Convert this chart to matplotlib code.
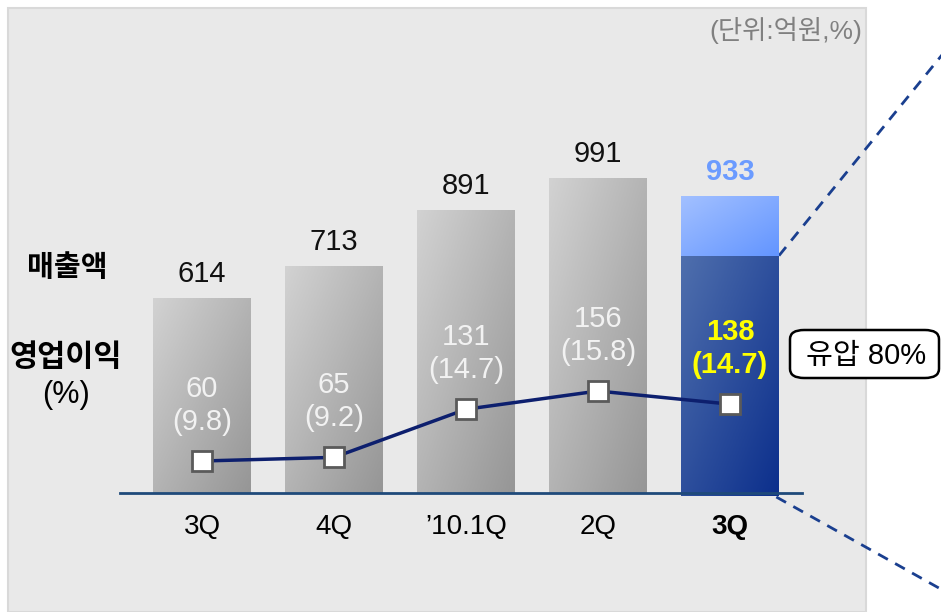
import numpy as np
import matplotlib
matplotlib.use('Agg')
import matplotlib.pyplot as plt
from matplotlib.colors import LinearSegmentedColormap
from matplotlib.patches import Rectangle, FancyBboxPatch

plt.rcParams['font.family'] = ['Liberation Sans', 'Noto Sans CJK KR', 'DejaVu Sans']

# data
quarters = ['3Q', '4Q', '\u201910.1Q', '2Q', '3Q']
sales = [614, 713, 891, 991, 933]
profit = [60, 65, 131, 156, 138]
margin = [9.8, 9.2, 14.7, 15.8, 14.7]
hydraulic_share = 0.80

W, H = 941, 612
fig = plt.figure(figsize=(W / 100, H / 100), dpi=100)

# gray panel
fig.patches.append(Rectangle((8 / W, 0), 858 / W, 604 / H, transform=fig.transFigure,
                             facecolor='#e9e9e9', edgecolor='#d9d9d9', lw=1.5, zorder=-5))

sy = 0.318   # px per unit of sales
ax = fig.add_axes([0, 0, 1, 1])
ax.set_facecolor('none')
x = np.arange(len(quarters))
xlim = (-202 / 132, (W - 202) / 132)
ylim = ((493 - H) / sy, 493 / sy)

gray_cmap = LinearSegmentedColormap.from_list('g', ['#d2d2d2', '#969696'])
blue_cmap = LinearSegmentedColormap.from_list('b', ['#4f6fad', '#0c2f8c'])
lblue_cmap = LinearSegmentedColormap.from_list('lb', ['#a2c0ff', '#6395ff'])

n = 64
gi, gj = np.mgrid[0:n, 0:n]
grad = (gi + gj) / (2 * (n - 1))


def grad_bar(x0, y0, w, h, cmap):
    r = Rectangle((x0, y0), w, h, facecolor='none', edgecolor='none')
    ax.add_patch(r)
    im = ax.imshow(grad, cmap=cmap, extent=(x0, x0 + w, y0, y0 + h),
                   aspect='auto', origin='upper', zorder=2)
    im.set_clip_path(r)


bw = 0.742
for i, s in enumerate(sales):
    if i < len(sales) - 1:
        grad_bar(x[i] - bw / 2, 0, bw, s, gray_cmap)
        ax.text(x[i], s + 24 / sy, str(s), ha='center', va='center', fontsize=21, color='#111111')
    else:
        low = s * hydraulic_share
        grad_bar(x[i] - bw / 2, -3 / sy, bw, low + 3 / sy, blue_cmap)
        grad_bar(x[i] - bw / 2, low, bw, s - low, lblue_cmap)
        ax.text(x[i], s + 24 / sy, str(s), ha='center', va='center', fontsize=21,
                color='#6b9bff', fontweight='bold')

# baseline
ax.plot([(120 - 202) / 132, (802 - 202) / 132], [0, 0], color='#1f4a7a', lw=2, zorder=3)

# category labels
for i, q in enumerate(quarters):
    ax.text(x[i], -34 / sy, q, ha='center', va='center', fontsize=20, color='black',
            fontweight='bold' if i == len(quarters) - 1 else 'normal')

# dashed zoom lines
top_y = sales[-1] * hydraulic_share
ax.plot([x[-1] + bw / 2, (W + 5 - 202) / 132], [top_y, (493 - 50) / sy],
        ls=(0, (4, 3)), color='#1a3f8f', lw=2, zorder=1, clip_on=False)
ax.plot([x[-1] + bw / 2 - 0.02, (W + 5 - 202) / 132], [-4 / sy, -99 / sy],
        ls=(0, (4, 3)), color='#1a3f8f', lw=2, zorder=1, clip_on=False)

ax.set_xlim(*xlim)
ax.set_ylim(*ylim)
ax.axis('off')

# profit line on twin axis
py = 0.729   # px per unit of profit
ax2 = ax.twinx()
ax2.set_ylim((504.75 - H) / py, 504.75 / py)
ax2.plot(x, profit, color='#0d1f6e', lw=2.5, zorder=4, marker='s', markersize=14,
         markerfacecolor='white', markeredgecolor='#5a5a5a', markeredgewidth=2)
for i, (p, m) in enumerate(zip(profit, margin)):
    last = i == len(profit) - 1
    col = '#ffff00' if last else '#f2f2f2'
    fw = 'bold' if last else 'normal'
    ax2.text(x[i], p + 72 / py, str(p), ha='center', va='center', fontsize=21, color=col, fontweight=fw)
    ax2.text(x[i], p + 39 / py, f'({m})', ha='center', va='center', fontsize=21, color=col, fontweight=fw)
ax2.set_xlim(*xlim)
ax2.axis('off')

# side labels
fig.text(67 / W, 1 - 268 / H, '매출액', ha='center', va='center', fontsize=21, fontweight='bold')
fig.text(66 / W, 1 - 358 / H, '영업이익', ha='center', va='center', fontsize=22, fontweight='bold')
fig.text(66 / W, 1 - 395 / H, '(%)', ha='center', va='center', fontsize=22)
fig.text(862 / W, 1 - 30 / H, '(단위:억원,%)', ha='right', va='center', fontsize=19, color='#808080')

# callout box
fig.patches.append(FancyBboxPatch((790 / W, 1 - 378 / H), 149 / W, 48 / H,
                                  boxstyle='round,pad=0,rounding_size=0.015',
                                  transform=fig.transFigure, facecolor='white',
                                  edgecolor='black', lw=1.8, zorder=5))
fig.text(866 / W, 1 - 356 / H, '유압 80%', ha='center', va='center', fontsize=21, zorder=6)

fig.savefig('out.png', dpi=100)
